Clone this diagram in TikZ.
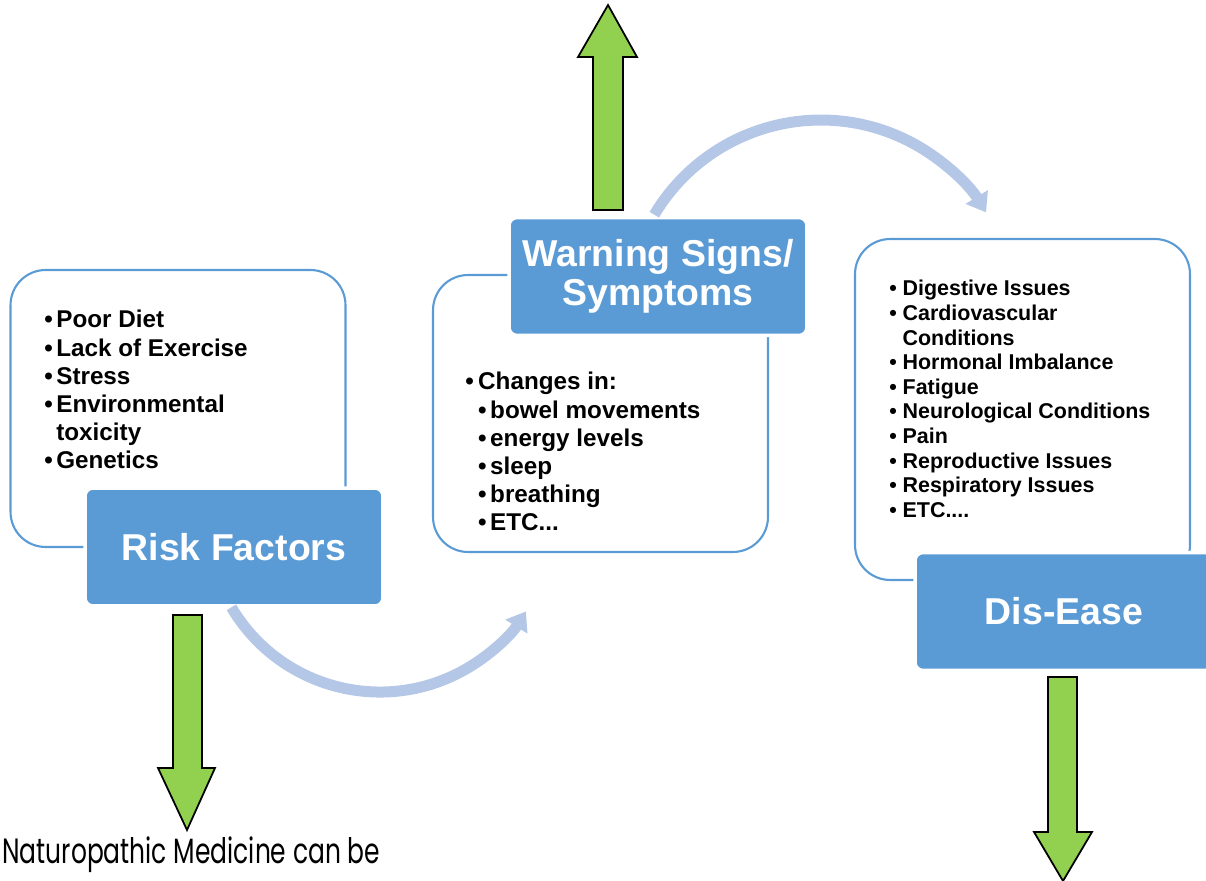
\documentclass[tikz,border=0pt]{standalone}
\usepackage{fontspec}
\setmainfont{Liberation Sans}
\newfontfamily\notefont[FakeStretch=0.71]{Poppins}
\usetikzlibrary{arrows.meta}
\definecolor{boxblue}{HTML}{5B9BD5}
\definecolor{flowblue}{HTML}{B4C7E7}
\definecolor{leafgreen}{HTML}{92D050}

\begin{document}
\begin{tikzpicture}[x=0.02cm,y=-0.02cm,
    outline/.style={draw=boxblue,line width=1.2pt,rounded corners=0.7cm,minimum width=6.7cm,inner sep=0},
    title/.style={fill=boxblue,draw=white,line width=2pt,rounded corners=0.16cm,minimum width=5.96cm,minimum height=2.36cm,
                  text=white,align=center,font=\fontsize{21.3}{22}\selectfont\bfseries},
    list/.style={anchor=north west,inner sep=0,align=left,font=\fontsize{13.8}{16}\selectfont\bfseries},
    flow/.style={draw=flowblue,line width=0.22cm,-{Triangle[length=0.36cm,width=0.5cm]}},
    greenarrow/.style={fill=leafgreen,draw=black,line width=1pt,line join=miter}]
    \useasboundingbox (0,0) rectangle (1206,881);
    \clip (0,0) rectangle (1206,881);

    % white boxes with the lists
    \node[outline,minimum height=5.54cm] (riskbox) at (178,408.5) {};
    \node[outline,minimum height=5.54cm] (warnbox) at (600.5,413.5) {};
    \node[outline,minimum height=6.82cm] (disbox) at (1022.5,409.5) {};

    \node[list] (risklist) at (44,310) {\textbullet\kern2pt Poor Diet\\
        \textbullet\kern2pt Lack of Exercise\\
        \textbullet\kern2pt Stress\\
        \textbullet\kern2pt Environmental\\
        \hphantom{\textbullet\kern2pt}toxicity\\
        \textbullet\kern2pt Genetics};
    \node[list] (warnlist) at (465,372) {\textbullet\kern2.5pt Changes in:\\
        \hphantom{\textbullet\kern2.5pt}\textbullet\kern2pt bowel movements\\
        \hphantom{\textbullet\kern2.5pt}\textbullet\kern2pt energy levels\\
        \hphantom{\textbullet\kern2.5pt}\textbullet\kern2pt sleep\\
        \hphantom{\textbullet\kern2.5pt}\textbullet\kern2pt breathing\\
        \hphantom{\textbullet\kern2.5pt}\textbullet\kern2pt ETC...};
    \node[list,font=\fontsize{12.2}{14}\selectfont\bfseries] (dislist) at (889,280) {\textbullet\kern3.3pt Digestive Issues\\
        \textbullet\kern3.3pt Cardiovascular\\
        \hphantom{\textbullet\kern3.3pt}Conditions\\
        \textbullet\kern3.3pt Hormonal Imbalance\\
        \textbullet\kern3.3pt Fatigue\\
        \textbullet\kern3.3pt Neurological Conditions\\
        \textbullet\kern3.3pt Pain\\
        \textbullet\kern3.3pt Reproductive Issues\\
        \textbullet\kern3.3pt Respiratory Issues\\
        \textbullet\kern3.3pt ETC....};

    % blue titles
    \node[title] (risk) at (234,547) {Risk Factors};
    \node[title] (warn) at (658,276.5) {Warning Signs/\\Symptoms};
    \node[title] (dis) at (1064,611.5) {Dis-Ease};

    % curved arrows between the stages
    \coordinate (riskout) at (231.4,607.3);
    \coordinate (warnout) at (654.3,214.7);
    \draw[flow] (riskout) arc[start angle=210.6,end angle=327.8,radius=3.452cm];
    \draw[flow] (warnout) arc[start angle=149.2,end angle=31.6,radius=3.88cm];

    % green arrows
    \draw[greenarrow] (593,210) -- (593,57) -- (578,57) -- (608,5) -- (637,57) -- (623,57) -- (623,210) -- cycle;
    \draw[greenarrow] (173,615) -- (202,615) -- (202,768) -- (215,768) -- (187,830) -- (158,768) -- (173,768) -- cycle;
    \draw[greenarrow] (1048,677) -- (1077,677) -- (1077,832) -- (1092,832) -- (1063,881) -- (1034,832) -- (1048,832) -- cycle;

    \node[anchor=base west,inner sep=0,font=\notefont\fontsize{20}{24}\selectfont] (note) at (2,863) {Naturopathic Medicine can be};
\end{tikzpicture}
\end{document}
